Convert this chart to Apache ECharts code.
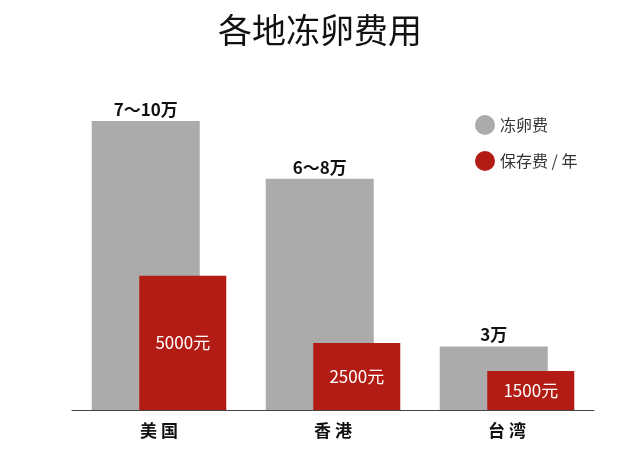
<!DOCTYPE html>
<html><head><meta charset="utf-8">
<script src="https://cdn.jsdelivr.net/npm/echarts@6/dist/echarts.min.js"></script>
<style>html,body{margin:0;padding:0;background:#fff}#c{width:640px;height:455px}</style>
</head><body><div id="c"></div>
<script>
const categories = ["美 国", "香 港", "台 湾"];
const freezeCost = [10, 8, 2.2];
const freezeLabels = ["7～10万", "6～8万", "3万"];
const storageCost = [4.64, 2.32, 1.35];
const storageLabels = ["5000元", "2500元", "1500元"];

const chart = echarts.init(document.getElementById('c'));
const F = '"Noto Sans CJK SC", "Noto Sans", sans-serif';
chart.setOption({
  animation: false,
  title: { text: '各地冻卵费用', left: 'center', top: 8,
    textStyle: { fontFamily: F, fontSize: 34, fontWeight: 'normal', color: '#111' } },
  legend: {
    orient: 'vertical', left: 470, top: 110, itemGap: 16, icon: 'circle',
    itemWidth: 20, itemHeight: 20,
    textStyle: { fontFamily: F, fontSize: 16, color: '#333' },
    data: ['冻卵费', '保存费 / 年']
  },
  grid: { left: 72, right: 46, top: 70, bottom: 45 },
  xAxis: {
    type: 'category', data: categories,
    axisLine: { lineStyle: { color: '#444', width: 1 } },
    axisTick: { show: false },
    axisLabel: { fontFamily: F, fontSize: 17, fontWeight: 'bold', color: '#111', margin: 12 }
  },
  yAxis: { type: 'value', min: 0, max: 11.76, show: false, splitLine: { show: false } },
  series: [
    { name: '冻卵费', type: 'bar', data: freezeCost, barWidth: 108, barGap: '-56%',
      itemStyle: { color: '#ababab' },
      label: { show: true, position: 'top', distance: 3,
        formatter: p => freezeLabels[p.dataIndex],
        fontFamily: F, fontSize: 17, fontWeight: 'bold', color: '#111' } },
    { name: '保存费 / 年', type: 'bar', data: storageCost, barWidth: 87,
      itemStyle: { color: '#b21c14' },
      label: { show: true, position: 'inside',
        formatter: p => storageLabels[p.dataIndex],
        fontFamily: F, fontSize: 17, color: '#fff' } }
  ]
});
</script></body></html>
